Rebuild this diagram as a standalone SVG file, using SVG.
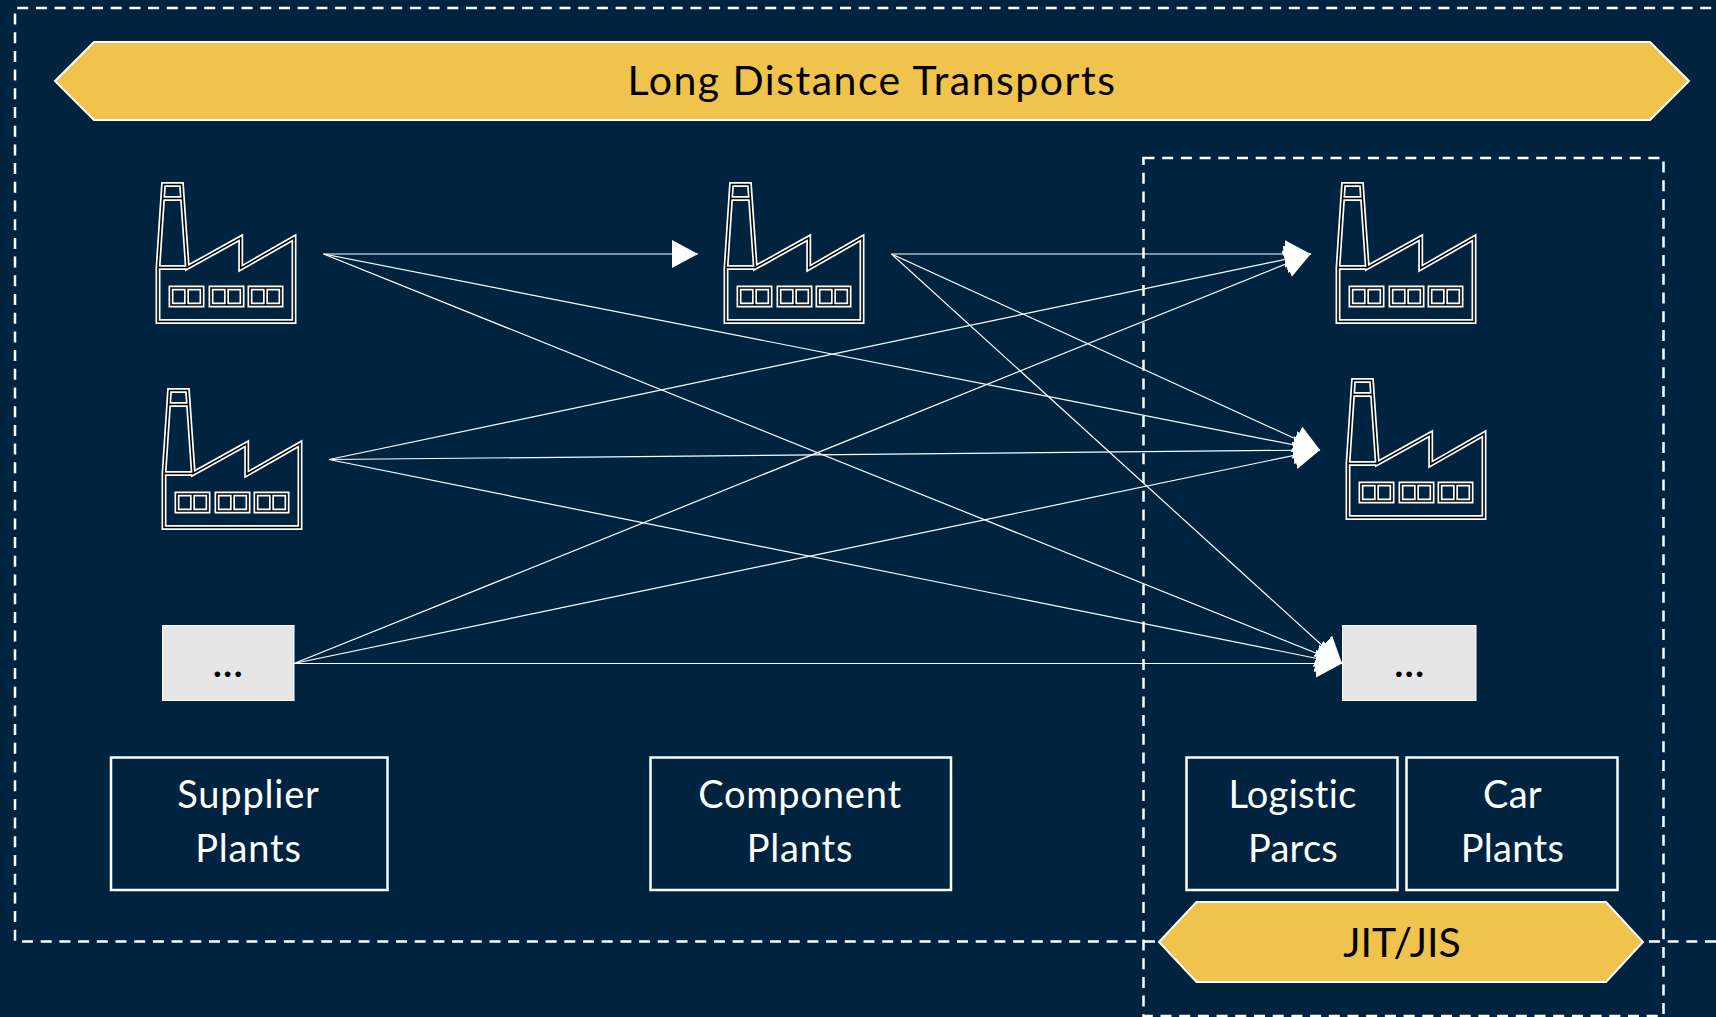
<svg xmlns="http://www.w3.org/2000/svg" xmlns:xlink="http://www.w3.org/1999/xlink" width="1716" height="1017" viewBox="0 0 1716 1017">
<style>
.bg{fill:#00233f}
.dash{fill:none;stroke:#fff;stroke-width:2.5;stroke-dasharray:11 7.7}
.ban{fill:#efc34c;stroke:#fff;stroke-width:2}
.lbl{fill:none;stroke:#fff;stroke-width:2.5}
.dots{fill:#e6e6e6;stroke:#fff;stroke-width:1}
.edge{fill:none;stroke:#fff;stroke-width:1.2;marker-end:url(#ah)}
.t{font-family:"Lato","Open Sans",sans-serif;text-anchor:middle;font-variant-ligatures:none}
.w{fill:#fff;font-size:38px;letter-spacing:.8px}
.k{fill:#000}
.n{letter-spacing:.3px}
.f1{fill:none;stroke:#fff;stroke-width:5;stroke-linejoin:miter}
.f2{fill:none;stroke:#000;stroke-width:1.6;stroke-linejoin:miter}
</style>
<defs>
<marker id="ah" markerUnits="userSpaceOnUse" markerWidth="30" markerHeight="30" refX="26" refY="14" orient="auto"><path d="M0,0L26,14L0,28Z" fill="#fff"/></marker>
<g id="fac">
<path class="f1" d="M158,321.500V267.500L163.500,184.500H181.500L187.300,267.500L240.700,237.800V268.300L294,237.800V321.500Z"/>
<path class="f1" d="M158,267.500H187.300M163,198.500H182"/>
<path class="f1" d="M171,288H202V305H171ZM186.500,288V305M211,288H242V305H211ZM226.500,288V305M250,288H281V305H250ZM265.500,288V305"/>
<path class="f2" d="M158,321.500V267.500L163.500,184.500H181.500L187.300,267.500L240.700,237.800V268.300L294,237.800V321.500Z"/>
<path class="f2" d="M158,267.500H187.300M163,198.500H182"/>
<path class="f2" d="M171,288H202V305H171ZM186.500,288V305M211,288H242V305H211ZM226.500,288V305M250,288H281V305H250ZM265.500,288V305"/>
</g>
</defs>
<rect class="bg" width="1716" height="1017"/>
<g id="connectors">
<path class="edge" d="M323.500,254H698"/>
<path class="edge" d="M323.500,254L1320,450"/>
<path class="edge" d="M323.500,254L1342,663.500"/>
<path class="edge" d="M329,459.500L1310.700,254"/>
<path class="edge" d="M329,459.500L1320,450"/>
<path class="edge" d="M329,459.500L1342,663.500"/>
<path class="edge" d="M294,663.500L1310.700,254"/>
<path class="edge" d="M294,663.500L1320,450"/>
<path class="edge" d="M294,663.500H1342"/>
<path class="edge" d="M891.500,254H1310.700"/>
<path class="edge" d="M891.500,254L1320,450"/>
<path class="edge" d="M891.500,254L1342,663.500"/>
</g>
<g id="zones">
<path class="dash" d="M1716,941.500H15V8H1716"/>
<rect class="dash" x="1143.500" y="158" width="520" height="858"/>
</g>
<g id="long-distance"><path class="ban" d="M55,81L94,42H1650L1689,81L1650,120H94Z"/><text class="t k" x="872" y="94.500" font-size="41" letter-spacing="1.5">Long Distance Transports</text></g>
<g id="jit"><path class="ban" d="M1159,942L1196.500,902H1606L1643,942L1606,982H1196.500Z"/><text class="t k" x="1402" y="957" font-size="41">JIT/JIS</text></g>
<use id="factory-1" xlink:href="#fac"/>
<use id="factory-2" xlink:href="#fac" x="6" y="206"/>
<use id="factory-3" xlink:href="#fac" x="568"/>
<use id="factory-4" xlink:href="#fac" x="1180"/>
<use id="factory-5" xlink:href="#fac" x="1190" y="196"/>
<g id="more-left"><rect class="dots" x="162.500" y="625.500" width="131.500" height="75"/><text class="t k" x="228.500" y="677" font-size="37" font-weight="700" letter-spacing="1.5">...</text></g>
<g id="more-right"><rect class="dots" x="1342.500" y="625.500" width="133.500" height="75"/><text class="t k" x="1410" y="677" font-size="37" font-weight="700" letter-spacing="1.5">...</text></g>
<g id="supplier"><rect class="lbl" x="111" y="757.500" width="276.500" height="132.500"/><text class="t w" x="248.500" y="808">Supplier</text><text class="t w" x="248.500" y="861.500">Plants</text></g>
<g id="component"><rect class="lbl" x="650.500" y="757.500" width="300.500" height="132.500"/><text class="t w" x="800" y="808">Component</text><text class="t w" x="800" y="861.500">Plants</text></g>
<g id="logistic"><rect class="lbl" x="1186.500" y="757.500" width="211" height="132.500"/><text class="t w n" x="1292.500" y="808">Logistic</text><text class="t w n" x="1293" y="861.500">Parcs</text></g>
<g id="car"><rect class="lbl" x="1406.500" y="757.500" width="211" height="132.500"/><text class="t w n" x="1512.500" y="808">Car</text><text class="t w n" x="1512.500" y="861.500">Plants</text></g>
</svg>
